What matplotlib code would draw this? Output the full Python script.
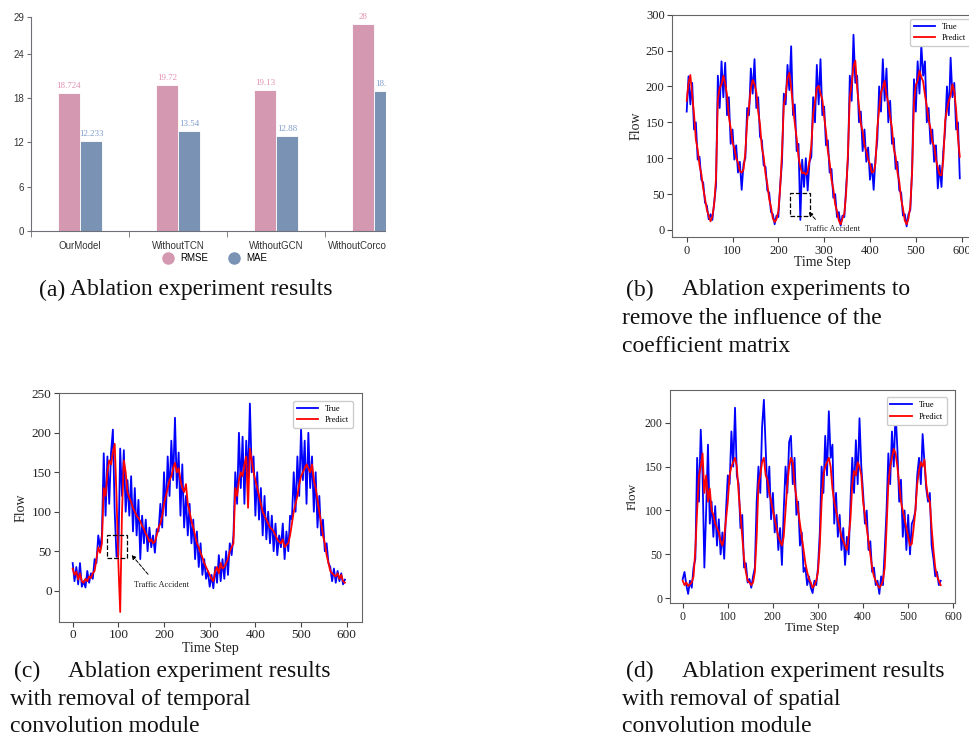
import numpy as np
import matplotlib.pyplot as plt
from matplotlib.patches import Rectangle
from matplotlib.lines import Line2D

plt.rcParams['font.family'] = ['Liberation Serif', 'Noto Sans CJK SC', 'DejaVu Sans']

# ---- (a) ablation bars ----
CATEGORIES = ['OurModel', 'WithoutTCN', 'WithoutGCN', 'WithoutCorcoefficient']
RMSE = [18.724, 19.72, 19.13, 28]
MAE = [12.233, 13.54, 12.88, 18.96]
RMSE_LABELS = ['18.724', '19.72', '19.13', '28']
MAE_LABELS = ['12.233', '13.54', '12.88', '18.96']

STEP = 4
B_TRUE = [165, 214, 175, 205, 140, 150, 98, 102, 70, 66,
          38, 34, 15, 22, 14, 38, 62, 215, 170, 235,
          185, 233, 160, 185, 120, 140, 98, 118, 80, 95,
          56, 92, 100, 170, 160, 225, 190, 238, 170, 185,
          130, 125, 90, 88, 55, 52, 25, 22, 8, 20,
          18, 62, 95, 190, 175, 230, 195, 256, 160, 175,
          110, 120, 14, 98, 60, 100, 55, 95, 102, 185,
          150, 230, 175, 238, 160, 172, 118, 125, 80, 85,
          45, 50, 18, 25, 6, 20, 18, 60, 100, 215,
          180, 272, 205, 215, 150, 165, 110, 140, 95, 115,
          70, 92, 56, 100, 125, 200, 165, 238, 180, 225,
          150, 180, 120, 128, 85, 95, 55, 52, 20, 22,
          5, 22, 28, 85, 210, 165, 235, 190, 258, 215,
          235, 150, 170, 120, 140, 95, 118, 58, 90, 60,
          110, 140, 200, 160, 240, 185, 205, 140, 150, 72]
B_PRED = [180, 205, 216, 188, 162, 126, 112, 90, 78, 58,
          44, 28, 20, 12, 19, 36, 72, 182, 198, 203,
          215, 204, 188, 158, 142, 122, 114, 100, 94, 82,
          80, 84, 108, 152, 172, 198, 209, 203, 192, 165,
          147, 115, 102, 78, 64, 43, 32, 16, 11, 15,
          26, 58, 108, 175, 188, 212, 219, 198, 172, 148,
          128, 102, 88, 79, 80, 77, 81, 96, 118, 162,
          178, 198, 201, 190, 182, 158, 137, 110, 94, 70,
          57, 36, 26, 13, 8, 16, 23, 52, 108, 186,
          203, 228, 236, 198, 172, 148, 137, 118, 110, 98,
          92, 80, 81, 93, 142, 168, 192, 198, 208, 188,
          177, 158, 142, 113, 102, 80, 67, 43, 30, 13,
          8, 16, 33, 82, 178, 202, 208, 222, 213, 207,
          188, 172, 153, 142, 123, 117, 98, 87, 77, 76,
          98, 152, 168, 180, 188, 203, 193, 168, 128, 102]

C_TRUE = [35, 12, 30, 8, 35, 5, 12, 4, 25, 10,
          22, 15, 40, 35, 70, 55, 70, 174, 95, 170,
          110, 175, 204, 100, 43, 45, 180, 120, 178, 100,
          140, 95, 145, 75, 130, 70, 115, 40, 95, 60,
          90, 50, 80, 55, 70, 48, 78, 75, 110, 80,
          150, 95, 170, 120, 190, 140, 219, 130, 175, 95,
          160, 80, 120, 70, 110, 60, 90, 40, 75, 30,
          60, 20, 40, 15, 25, 5, 20, 3, 30, 10,
          45, 12, 40, 15, 50, 20, 60, 45, 70, 150,
          110, 200, 130, 195, 110, 190, 140, 237, 150, 170,
          95, 150, 90, 130, 70, 120, 65, 100, 60, 95,
          50, 85, 45, 70, 55, 85, 40, 75, 50, 95,
          90, 150, 100, 170, 120, 205, 140, 190, 110, 200,
          130, 170, 100, 150, 80, 120, 70, 90, 50, 60,
          35, 30, 12, 28, 10, 25, 12, 22, 8, 14]
C_PRED = [28, 20, 24, 14, 22, 12, 10, 15, 12, 18,
          16, 22, 25, 40, 55, 48, 60, 130, 120, 150,
          165, 160, 175, 186, 120, 35, -27, 100, 165, 150,
          125, 118, 112, 105, 100, 95, 92, 88, 82, 78,
          72, 68, 62, 65, 60, 62, 70, 80, 85, 95,
          110, 120, 130, 140, 145, 155, 162, 150, 155, 140,
          130, 125, 135, 110, 100, 88, 80, 70, 60, 55,
          48, 42, 35, 30, 25, 20, 15, 12, 25, 30,
          22, 35, 28, 30, 35, 40, 50, 55, 60, 130,
          120, 140, 150, 145, 160, 170, 105, 180, 165, 150,
          140, 130, 120, 110, 100, 95, 90, 85, 80, 78,
          75, 70, 65, 62, 60, 65, 55, 58, 60, 70,
          85, 100, 110, 120, 135, 145, 150, 155, 160, 155,
          150, 160, 140, 130, 115, 100, 85, 70, 60, 45,
          35, 25, 22, 20, 18, 22, 15, 20, 12, 10]

D_TRUE = [22, 30, 15, 5, 20, 12, 35, 45, 160, 110,
          192, 140, 35, 100, 175, 85, 110, 70, 105, 60,
          90, 50, 75, 45, 100, 140, 130, 190, 150, 217,
          140, 130, 80, 95, 35, 40, 18, 22, 12, 25,
          35, 110, 150, 120, 195, 226, 170, 115, 150, 90,
          120, 75, 95, 55, 80, 38, 100, 150, 120, 178,
          185, 130, 160, 95, 110, 60, 75, 30, 35, 15,
          25, 12, 6, 20, 15, 35, 75, 150, 120, 185,
          140, 213, 160, 175, 85, 120, 70, 95, 55, 80,
          38, 70, 50, 110, 160, 120, 180, 130, 205, 150,
          120, 85, 100, 55, 65, 30, 35, 15, 20, 5,
          25, 15, 55, 100, 165, 130, 190, 150, 213, 170,
          110, 135, 70, 100, 55, 95, 50, 85, 90, 100,
          140, 160, 130, 187, 155, 125, 110, 120, 60, 45,
          25, 30, 15, 20]
D_PRED = [20, 15, 18, 14, 16, 18, 25, 55, 100, 140,
          150, 165, 120, 140, 110, 125, 100, 95, 85, 80,
          75, 65, 60, 70, 90, 110, 140, 150, 155, 160,
          150, 120, 95, 70, 45, 30, 20, 18, 15, 18,
          30, 70, 130, 140, 155, 160, 140, 135, 120, 110,
          100, 90, 80, 70, 65, 60, 70, 100, 130, 150,
          160, 155, 130, 115, 100, 85, 70, 55, 40, 30,
          22, 18, 12, 15, 20, 30, 60, 110, 140, 150,
          155, 160, 150, 125, 110, 100, 90, 80, 70, 65,
          60, 55, 70, 90, 130, 145, 140, 155, 150, 140,
          110, 95, 80, 65, 50, 35, 25, 20, 15, 12,
          15, 20, 35, 80, 130, 150, 160, 170, 165, 150,
          130, 110, 100, 90, 80, 70, 60, 62, 80, 100,
          130, 145, 155, 150, 158, 130, 115, 110, 80, 55,
          35, 25, 20, 15]

# caption: (prefix, prefix x, body x, continuation x, first y, lines)
CAPTIONS = [
    ('(a)', 39, 70, 10, 290, ['Ablation experiment results']),
    ('(b)', 626, 682, 622, 290, ['Ablation experiments to',
                                 'remove the influence of the',
                                 'coefficient matrix']),
    ('(c)', 14, 68, 10, 671, ['Ablation experiment results',
                              'with removal of temporal',
                              'convolution module']),
    ('(d)', 626, 682, 622, 671, ['Ablation experiment results',
                                 'with removal of spatial',
                                 'convolution module']),
]
LINE_GAP = 28

W, H = 970, 738
fig = plt.figure(figsize=(W / 100, H / 100), dpi=100)


def px_axes(left, top, right, bottom):
    return fig.add_axes([left / W, 1 - bottom / H, (right - left) / W, (bottom - top) / H])


# ---------------- panel (a) ----------------
PINK, BLUE = '#d598b1', '#7a93b5'
AX_GRAY = '#6e7079'
axa = px_axes(31, 16.7, 423, 231)
x = np.arange(len(CATEGORIES))
bw = 0.225
axa.bar(x - bw / 2, RMSE, bw, color=PINK, edgecolor='white', linewidth=0.6)
axa.bar(x + bw / 2, MAE, bw, color=BLUE, edgecolor='white', linewidth=0.6)
for xi, v, s in zip(x, RMSE, RMSE_LABELS):
    axa.text(xi - bw / 2, v + 0.4, s, ha='center', va='bottom', fontsize=6.5, color='#e391b2')
for xi, v, s in zip(x, MAE, MAE_LABELS):
    axa.text(xi + bw / 2, v + 0.4, s, ha='center', va='bottom', fontsize=6.5, color='#7f9dcb')
axa.set_xlim(-0.5, 3.5)
axa.set_ylim(0, 29)
axa.set_yticks([0, 6, 12, 18, 24, 29])
axa.set_xticks(x)
axa.set_xticklabels(CATEGORIES, family='Liberation Sans', fontsize=7, color='#333333')
axa.set_xticks(np.arange(-0.5, 4, 1), minor=True)
axa.tick_params(axis='x', which='major', length=0, pad=7)
axa.tick_params(axis='x', which='minor', length=4, color=AX_GRAY)
axa.tick_params(axis='y', length=3, color=AX_GRAY, labelsize=7, labelcolor='#333333', pad=2)
for lab in axa.get_yticklabels():
    lab.set_family('Liberation Sans')
for sp in ['top', 'right']:
    axa.spines[sp].set_visible(False)
for sp in ['left', 'bottom']:
    axa.spines[sp].set_color(AX_GRAY)
    axa.spines[sp].set_linewidth(0.8)
handles = [Line2D([], [], marker='o', ls='', ms=8, color=PINK, label='RMSE'),
           Line2D([], [], marker='o', ls='', ms=8, color=BLUE, label='MAE')]
axa.legend(handles=handles, loc='center', bbox_to_anchor=(0.464, -0.126), ncol=2,
           frameon=False, prop={'family': 'Liberation Sans', 'size': 7},
           handletextpad=0.3, columnspacing=1.6)
# the source picture is cut off on the right of panel (a)
fig.add_artist(Rectangle((386 / W, 1 - 270 / H), (615 - 386) / W, 270 / H,
                         transform=fig.transFigure, facecolor='white',
                         edgecolor='none', zorder=10))


# ---------------- flow panels ----------------
def flow_panel(ax, true, pred, xlim, ylim, yticks, tick_fs, label_fs,
               ylab_xy, xlab_xy, leg_anchor):
    t_true = np.arange(len(true)) * STEP
    t_pred = np.arange(len(pred)) * STEP
    ax.plot(t_true, true, color='#0000ff', lw=1.3, label='True')
    ax.plot(t_pred, pred, color='#ff0000', lw=1.3, label='Predict')
    ax.set_xlim(*xlim)
    ax.set_ylim(*ylim)
    ax.set_xticks(range(0, 601, 100))
    ax.set_yticks(yticks)
    ax.tick_params(length=3.5, width=0.8, color='#444444', labelsize=tick_fs,
                   labelcolor='#222222', pad=2)
    for sp in ax.spines.values():
        sp.set_color('#666666')
        sp.set_linewidth(0.8)
    ax.text(*ylab_xy, 'Flow', transform=ax.transAxes, rotation=90, ha='center',
            va='center', fontsize=label_fs, color='#222222')
    ax.text(*xlab_xy, 'Time Step', transform=ax.transAxes, ha='center',
            va='center', fontsize=label_fs, color='#222222')
    ax.legend(loc='upper right', bbox_to_anchor=leg_anchor, fontsize=6,
              handlelength=2.6, borderpad=0.45, labelspacing=0.45,
              framealpha=1, edgecolor='#cccccc', fancybox=True)


axb = px_axes(672.3, 14.7, 974, 237.3)
flow_panel(axb, B_TRUE, B_PRED, (-31.4, 627), (-10.2, 300), range(0, 301, 50),
           9, 10, (-0.12, 0.5), (0.496, -0.115), (1.0, 1.0))
axb.add_patch(Rectangle((226, 19.5), 44, 31.5, fill=False, ls='--', lw=0.9, ec='k', zorder=5))
axb.annotate('', xy=(262, 28), xytext=(285, 12),
             arrowprops=dict(arrowstyle='-|>', ls='--', lw=0.7, color='k', mutation_scale=6))
axb.text(318, 2, 'Traffic Accident', ha='center', va='center', fontsize=6, color='#222222', zorder=6)

axc = px_axes(59.3, 393.3, 361.7, 621.7)
flow_panel(axc, C_TRUE, C_PRED, (-29.3, 632.8), (-39.3, 250), range(0, 251, 50),
           9.5, 10, (-0.125, 0.5), (0.5, -0.118), (0.985, 0.985))
axc.add_patch(Rectangle((74.5, 41), 45.2, 29.5, fill=False, ls='--', lw=0.9, ec='k', zorder=5))
axc.annotate('', xy=(125, 48), xytext=(169, 18),
             arrowprops=dict(arrowstyle='-|>', ls='--', lw=0.7, color='k', mutation_scale=6))
axc.text(195, 7, 'Traffic Accident', ha='center', va='center', fontsize=6, color='#222222', zorder=6)

axd = px_axes(670, 390, 955, 603.3)
flow_panel(axd, D_TRUE, D_PRED, (-28.2, 603.8), (-5.7, 237.2), range(0, 201, 50),
           8.5, 9.5, (-0.13, 0.5), (0.5, -0.115), (0.985, 0.985))

# ---------------- captions ----------------
for prefix, px, bx, cx, y0, lines in CAPTIONS:
    fig.text(px / W, 1 - y0 / H, prefix, ha='left', va='center', fontsize=17, color='#111111')
    for i, line in enumerate(lines):
        xx = bx if i == 0 else cx
        fig.text(xx / W, 1 - (y0 + i * LINE_GAP) / H, line, ha='left', va='center',
                 fontsize=17, color='#111111')

fig.savefig('out.png', dpi=100, facecolor='white')
